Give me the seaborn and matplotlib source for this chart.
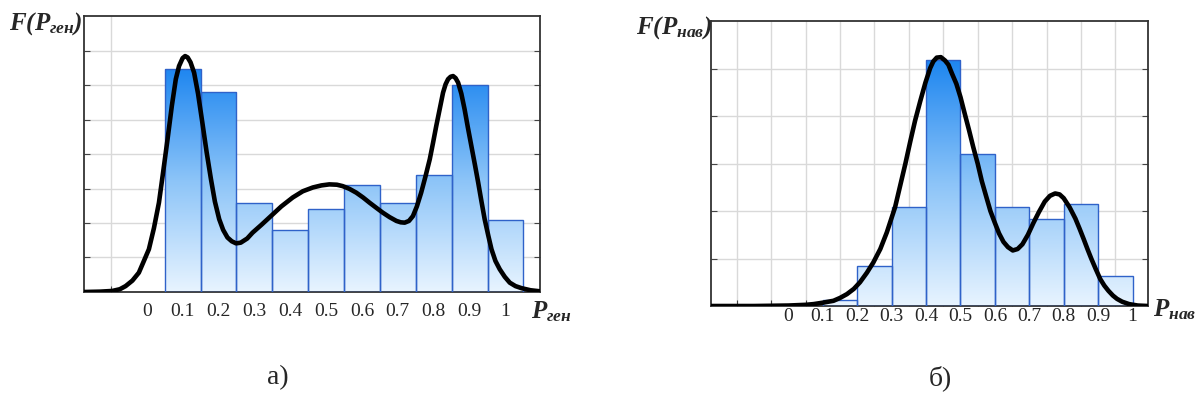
import numpy as np
import matplotlib
matplotlib.use("Agg")
import matplotlib.pyplot as plt
from matplotlib.colors import LinearSegmentedColormap
import seaborn as sns

# panel a) - P_gen histogram (bins 0.05..1.05) and density curve
gen_centers = [0.1, 0.2, 0.3, 0.4, 0.5, 0.6, 0.7, 0.8, 0.9, 1.0]
gen_heights = [6.47, 5.80, 2.59, 1.79, 2.40, 3.09, 2.59, 3.38, 5.99, 2.09]
gen_edges = [0.05, 0.15, 0.25, 0.35, 0.45, 0.55, 0.65, 0.75, 0.85, 0.95, 1.05]
gen_kde_x = [-0.174, -0.13, -0.096, -0.075, -0.059, -0.04, -0.022, -0.01, 0.006, 0.02,
             0.034, 0.046, 0.058, 0.07, 0.081, 0.09, 0.1, 0.107, 0.114, 0.122,
             0.132, 0.143, 0.155, 0.167, 0.179, 0.19, 0.202, 0.213, 0.225, 0.237,
             0.249, 0.262, 0.28, 0.295, 0.32, 0.346, 0.375, 0.407, 0.435, 0.463,
             0.487, 0.509, 0.53, 0.546, 0.565, 0.584, 0.603, 0.621, 0.64, 0.658,
             0.677, 0.696, 0.708, 0.719, 0.731, 0.742, 0.753, 0.765, 0.777, 0.789,
             0.798, 0.807, 0.817, 0.826, 0.833, 0.840, 0.847, 0.854, 0.861, 0.868,
             0.877, 0.886, 0.895, 0.905, 0.915, 0.924, 0.933, 0.942, 0.952, 0.961,
             0.972, 0.984, 0.998, 1.012, 1.028, 1.045, 1.07, 1.096]
gen_kde_y = [0.0, 0.01, 0.03, 0.08, 0.17, 0.33, 0.56, 0.85, 1.24, 1.85,
             2.59, 3.50, 4.43, 5.40, 6.17, 6.55, 6.78, 6.84, 6.80, 6.66,
             6.36, 5.75, 4.91, 4.05, 3.27, 2.62, 2.11, 1.80, 1.58, 1.47,
             1.41, 1.43, 1.55, 1.72, 1.95, 2.20, 2.48, 2.74, 2.92, 3.03,
             3.09, 3.12, 3.11, 3.07, 2.99, 2.88, 2.74, 2.59, 2.44, 2.30,
             2.17, 2.06, 2.02, 2.01, 2.06, 2.20, 2.48, 2.88, 3.35, 3.85,
             4.32, 4.81, 5.32, 5.78, 6.02, 6.17, 6.24, 6.26, 6.20, 6.07,
             5.75, 5.30, 4.78, 4.23, 3.68, 3.17, 2.63, 2.11, 1.64, 1.24,
             0.90, 0.66, 0.44, 0.27, 0.17, 0.11, 0.05, 0.02]

# panel б) - P_nav histogram (bins 0.1..1.0) and density curve
nav_centers = [0.15, 0.25, 0.35, 0.45, 0.55, 0.65, 0.75, 0.85, 0.95]
nav_heights = [0.12, 0.85, 2.08, 5.17, 3.20, 2.08, 1.84, 2.15, 0.64]
nav_edges = [0.1, 0.2, 0.3, 0.4, 0.5, 0.6, 0.7, 0.8, 0.9, 1.0]
nav_kde_x = [-0.225, -0.1, 0.0, 0.05, 0.073, 0.1, 0.131, 0.15, 0.17, 0.19,
             0.208, 0.228, 0.247, 0.267, 0.286, 0.31, 0.325, 0.34, 0.354, 0.368,
             0.383, 0.398, 0.412, 0.421, 0.431, 0.443, 0.455, 0.465, 0.475, 0.488,
             0.5, 0.512, 0.525, 0.537, 0.55, 0.562, 0.575, 0.587, 0.6, 0.612,
             0.625, 0.638, 0.652, 0.666, 0.68, 0.696, 0.712, 0.728, 0.745, 0.76,
             0.775, 0.788, 0.80, 0.817, 0.834, 0.846, 0.858, 0.869, 0.88, 0.893,
             0.906, 0.918, 0.93, 0.943, 0.955, 0.97, 0.99, 1.015, 1.045]
nav_kde_y = [0.0, 0.0, 0.01, 0.025, 0.04, 0.07, 0.11, 0.17, 0.25, 0.36,
             0.50, 0.70, 0.92, 1.20, 1.55, 2.08, 2.54, 3.00, 3.46, 3.90,
             4.31, 4.70, 5.01, 5.15, 5.23, 5.24, 5.17, 5.08, 4.90, 4.68,
             4.40, 4.06, 3.70, 3.35, 3.00, 2.63, 2.30, 2.00, 1.75, 1.53,
             1.35, 1.24, 1.17, 1.20, 1.30, 1.50, 1.75, 1.98, 2.20, 2.32,
             2.37, 2.35, 2.27, 2.08, 1.84, 1.63, 1.41, 1.20, 1.00, 0.78,
             0.57, 0.43, 0.32, 0.22, 0.15, 0.09, 0.04, 0.01, 0.0]

tick_values = [0, 0.1, 0.2, 0.3, 0.4, 0.5, 0.6, 0.7, 0.8, 0.9, 1.0]
tick_labels = ["0", "0.1", "0.2", "0.3", "0.4", "0.5", "0.6", "0.7", "0.8", "0.9", "1"]

sns.set_style("white")
plt.rcParams["font.family"] = ["Liberation Serif", "DejaVu Serif"]
plt.rcParams["mathtext.fontset"] = "custom"
plt.rcParams["mathtext.it"] = "Liberation Serif:italic:bold"
plt.rcParams["mathtext.rm"] = "Liberation Serif:italic:bold"
plt.rcParams["mathtext.bf"] = "Liberation Serif:italic:bold"

cmap = LinearSegmentedColormap.from_list("bars", ["#e8f4ff", "#8cc4f8", "#1e86f0"])
grad = np.linspace(0, 1, 256).reshape(-1, 1)


def draw_panel(ax, centers, heights, edges, kde_x, kde_y, xlim, ylim, grid_x, pad):
    sns.histplot(x=centers, weights=heights, bins=edges, ax=ax, stat="count",
                 edgecolor="#2f62c9", linewidth=1.0, zorder=3)
    top = max(heights)
    for p in ax.patches:
        x0, w = p.get_x(), p.get_width()
        im = ax.imshow(grad, cmap=cmap, extent=(x0, x0 + w, 0, top), origin="lower",
                       aspect="auto", zorder=2, interpolation="bicubic")
        im.set_clip_path(p)
        p.set_facecolor("none")
    sns.lineplot(x=kde_x, y=kde_y, ax=ax, color="black", linewidth=3.3, sort=False,
                 estimator=None, zorder=4, solid_capstyle="round",
                 solid_joinstyle="round")
    ax.set_xlim(*xlim)
    ax.set_ylim(*ylim)
    ax.set_xticks(tick_values, tick_labels)
    ax.set_xticks(grid_x, minor=True)
    ax.set_yticks([])
    ax.set_yticks(np.arange(1, ylim[1]), minor=True)
    ax.grid(which="minor", color="#d9d9d9", linewidth=1.0)
    ax.set_axisbelow(True)
    ax.tick_params(which="major", axis="x", length=0, pad=pad, labelsize=14)
    ax.tick_params(which="minor", direction="in", length=4, width=0.8, color="#444444",
                   bottom=True, left=True, right=True)
    ax.set_xlabel("")
    ax.set_ylabel("")
    for s in ax.spines.values():
        s.set_color("#333333")
        s.set_linewidth(1.3)


fig = plt.figure(figsize=(12.03, 4.10), dpi=100)
ax1 = fig.add_axes([0.0698, 0.2854, 0.379, 0.673])
ax2 = fig.add_axes([0.591, 0.2512, 0.3633, 0.695])

draw_panel(ax1, gen_centers, gen_heights, gen_edges, gen_kde_x, gen_kde_y,
           (-0.175, 1.096), (0, 8), np.arange(-0.1, 1.01, 0.1), 7)
draw_panel(ax2, nav_centers, nav_heights, nav_edges, nav_kde_x, nav_kde_y,
           (-0.225, 1.045), (0, 6), np.arange(-0.15, 0.96, 0.1), 1)

ax1.text(-0.004, 0.953, r"$F(P_{ген})$", transform=ax1.transAxes, ha="right",
         va="baseline", fontsize=18)
ax2.text(0.002, 0.961, r"$F(P_{нав})$", transform=ax2.transAxes, ha="right",
         va="baseline", fontsize=18)
ax1.text(0.98, -0.091, r"$P_{ген}$", transform=ax1.transAxes, ha="left",
         va="baseline", fontsize=18)
ax2.text(1.011, -0.034, r"$P_{нав}$", transform=ax2.transAxes, ha="left",
         va="baseline", fontsize=18)

fig.text(278 / 1203, 1 - 378 / 410, "а)", ha="center", va="center", fontsize=20)
fig.text(940 / 1203, 1 - 378 / 410, "б)", ha="center", va="center", fontsize=20)

fig.savefig("out.png", dpi=100)
